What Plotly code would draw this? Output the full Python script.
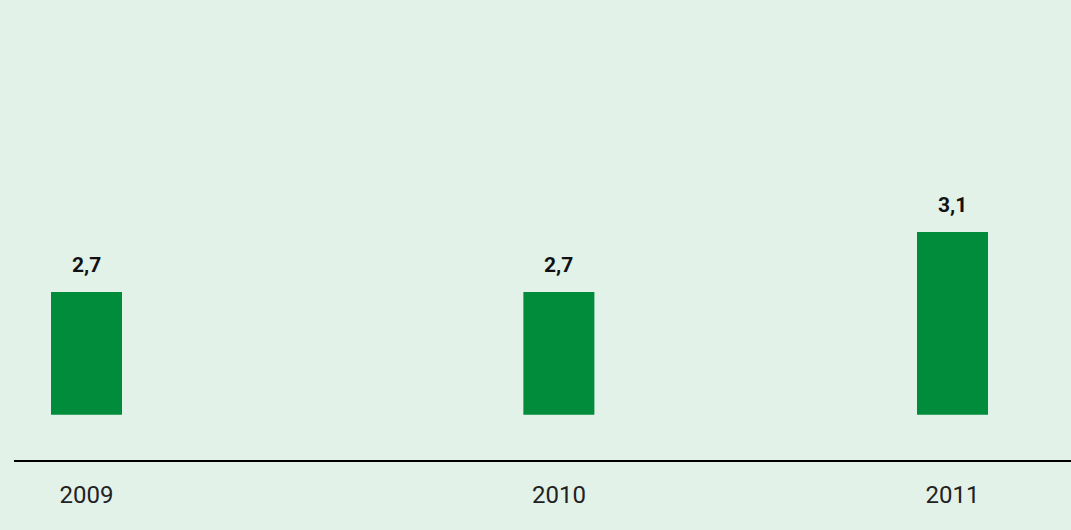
import plotly.graph_objects as go

# Data
years = ["2009", "2010", "2011"]
values = [2.7, 2.7, 3.1]

# Layout constants (slot positions of the bars on the horizontal axis)
slots = [0, 6, 11]

BG = "#e2f2e9"
BAR = "#008c3a"

fig = go.Figure()
fig.add_trace(go.Bar(
    x=slots, y=values, width=0.902,
    marker=dict(color=BAR, line=dict(width=0)),
    hoverinfo="skip",
))

for xs, v in zip(slots, values):
    fig.add_annotation(
        x=xs, y=v, xref="x", yref="y",
        text="<b>" + f"{v:.1f}".replace(".", ",") + "</b>",
        showarrow=False, yanchor="middle", yshift=27,
        font=dict(family="Roboto", size=21, color="#111111"),
    )

fig.update_layout(
    width=1071, height=530,
    margin=dict(l=14, r=0, t=0, b=69),
    paper_bgcolor=BG, plot_bgcolor=BG,
    showlegend=False,
    xaxis=dict(
        range=[-0.921, 12.505], anchor="free", position=0,
        showline=True, linecolor="#000000", linewidth=2,
        showgrid=False, zeroline=False,
        tickvals=slots, ticktext=years, ticks="",
        ticklabelstandoff=12,
        tickfont=dict(family="Roboto", size=24, color="#222222"),
        fixedrange=True,
    ),
    yaxis=dict(
        range=[1.882, 4.647], domain=[0.1004, 1],
        visible=False, showgrid=False, zeroline=False, fixedrange=True,
    ),
)

fig.write_html("out.html")
